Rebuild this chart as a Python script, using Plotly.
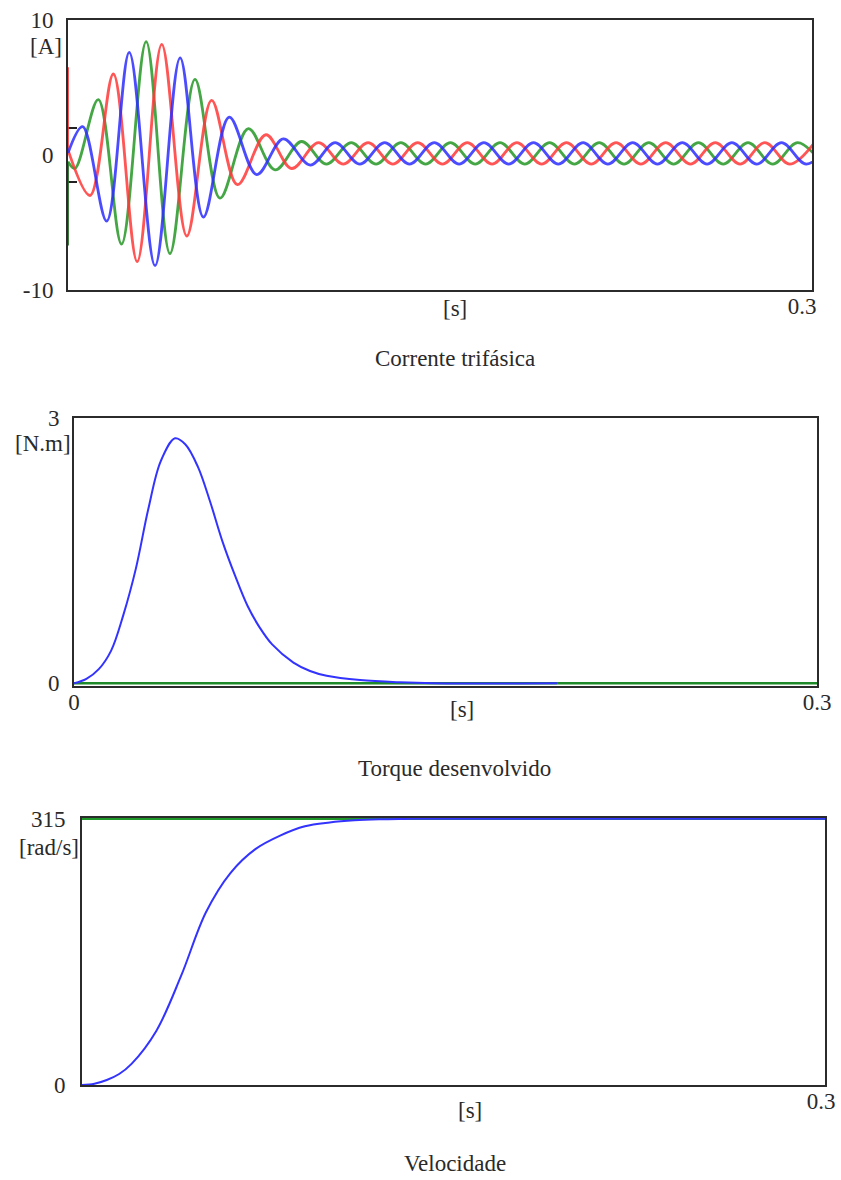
import plotly.graph_objects as go

W, H = 841, 1180
FONT = "Liberation Serif, Times New Roman, serif"
TXT = "#2a2a2a"

# ---------------- Panel 1: three-phase current [A] (extrema) -------------
ia_t = [0.0, 0.0089, 0.0183, 0.0279, 0.0378, 0.0479, 0.0579, 0.0683, 0.0798, 0.0902,
        0.1010, 0.1110, 0.1210, 0.1310, 0.1410, 0.1510, 0.1610, 0.1710, 0.1810, 0.1910,
        0.2010, 0.2110, 0.2210, 0.2310, 0.2410, 0.2510, 0.2610, 0.2710, 0.2810, 0.2910, 0.3010]
ia_v = [0.37, -3.0, 6.0, -7.9, 8.2, -6.0, 4.05, -2.2, 1.5, -1.0,
        0.92, -0.68, 0.92, -0.68, 0.92, -0.68, 0.92, -0.68, 0.92, -0.68,
        0.92, -0.68, 0.92, -0.68, 0.92, -0.68, 0.92, -0.68, 0.92, -0.68, 0.92]

ib_t = [0.0, 0.0059, 0.0156, 0.0247, 0.0351, 0.0452, 0.0546, 0.0650, 0.0761, 0.0868, 0.0977,
        0.1077, 0.1177, 0.1277, 0.1377, 0.1477, 0.1577, 0.1677, 0.1777, 0.1877, 0.1977,
        0.2077, 0.2177, 0.2277, 0.2377, 0.2477, 0.2577, 0.2677, 0.2777, 0.2877, 0.2977, 0.3077]
ib_v = [0.15, 2.1, -4.9, 7.6, -8.2, 7.2, -4.6, 2.8, -1.45, 1.2, -0.75,
        0.92, -0.68, 0.92, -0.68, 0.92, -0.68, 0.92, -0.68, 0.92, -0.68,
        0.92, -0.68, 0.92, -0.68, 0.92, -0.68, 0.92, -0.68, 0.92, -0.68, 0.92]

ic_t = [0.0, 0.0028, 0.0122, 0.0216, 0.0315, 0.0411, 0.0512, 0.0613, 0.0727, 0.0835, 0.0942,
        0.1042, 0.1142, 0.1242, 0.1342, 0.1442, 0.1542, 0.1642, 0.1742, 0.1842, 0.1942,
        0.2042, 0.2142, 0.2242, 0.2342, 0.2442, 0.2542, 0.2642, 0.2742, 0.2842, 0.2942, 0.3042]
ic_v = [-0.5, -1.0, 4.1, -6.6, 8.4, -7.3, 5.6, -3.2, 1.95, -1.1, 1.0,
        -0.68, 0.92, -0.68, 0.92, -0.68, 0.92, -0.68, 0.92, -0.68, 0.92,
        -0.68, 0.92, -0.68, 0.92, -0.68, 0.92, -0.68, 0.92, -0.68, 0.92, -0.68]

# initial sample jump at t = 0
ia_init_t = [0.0, 0.0]
ia_init_v = [6.5, 0.37]
ic_init_t = [0.0, 0.0]
ic_init_v = [-6.7, -0.5]

# short marks on the current axis
i_marks = [-2, 2]

# ---------------- Panel 2: developed torque [N.m] ----------------
tq_t = [0.0, 0.005, 0.010, 0.015, 0.020, 0.025, 0.030, 0.035, 0.0408, 0.045, 0.050,
        0.055, 0.060, 0.065, 0.070, 0.075, 0.080, 0.0886, 0.0953, 0.1020, 0.1155,
        0.1316, 0.1450, 0.1950]
tq_v = [0.0, 0.05, 0.16, 0.37, 0.78, 1.30, 1.97, 2.51, 2.77, 2.70, 2.45,
        2.05, 1.60, 1.22, 0.88, 0.63, 0.44, 0.235, 0.14, 0.086, 0.037,
        0.011, 0.0, 0.0]
tl_t = [0.0, 0.3]
tl_v = [0.0, 0.0]

# ---------------- Panel 3: speed [rad/s] ----------------
w_t = [0.0, 0.005, 0.010, 0.015, 0.020, 0.030, 0.040, 0.050, 0.060, 0.070, 0.080, 0.090,
       0.100, 0.110, 0.120, 0.130, 0.140, 0.300]
w_v = [0.0, 1.5, 5.9, 13.0, 25.0, 64.0, 129.0, 204.0, 251.0, 279.0, 295.0, 306.0,
       310.5, 313.0, 314.2, 314.7, 315.0, 315.0]
wref_t = [0.0, 0.3]
wref_v = [315.0, 315.0]

RED, GREEN, BLUE = "rgba(255,55,55,0.85)", "rgba(35,150,35,0.85)", "rgba(45,45,255,0.85)"

fig = go.Figure()
# panel 1
fig.add_trace(go.Scatter(x=ia_init_t, y=ia_init_v, mode="lines", line=dict(color=RED, width=2), xaxis="x", yaxis="y"))
fig.add_trace(go.Scatter(x=ic_init_t, y=ic_init_v, mode="lines", line=dict(color="rgba(40,110,40,0.9)", width=2), xaxis="x", yaxis="y"))
fig.add_trace(go.Scatter(x=ic_t, y=ic_v, mode="lines", line=dict(color=GREEN, width=2.8, shape="spline", smoothing=1.0), xaxis="x", yaxis="y"))
fig.add_trace(go.Scatter(x=ia_t, y=ia_v, mode="lines", line=dict(color=RED, width=2.8, shape="spline", smoothing=1.0), xaxis="x", yaxis="y"))
fig.add_trace(go.Scatter(x=ib_t, y=ib_v, mode="lines", line=dict(color=BLUE, width=2.8, shape="spline", smoothing=1.0), xaxis="x", yaxis="y"))
# panel 2
fig.add_trace(go.Scatter(x=tl_t, y=tl_v, mode="lines", line=dict(color="#1f8a2a", width=2.5), xaxis="x2", yaxis="y2"))
fig.add_trace(go.Scatter(x=tq_t, y=tq_v, mode="lines", line=dict(color="#3333ff", width=2, shape="spline", smoothing=1.0), xaxis="x2", yaxis="y2"))
# panel 3
fig.add_trace(go.Scatter(x=wref_t, y=wref_v, mode="lines", line=dict(color="#1f9a2a", width=2.5), xaxis="x3", yaxis="y3"))
fig.add_trace(go.Scatter(x=w_t, y=w_v, mode="lines", line=dict(color="#3333ff", width=2, shape="spline", smoothing=1.0), xaxis="x3", yaxis="y3"))


def dom_x(x0, x1):
    return [x0 / W, x1 / W]


def dom_y(ytop, ybot):
    return [1 - ybot / H, 1 - ytop / H]


tickfont = dict(family=FONT, size=23, color=TXT)
frame = dict(showline=True, mirror=True, linecolor="#2b2b2b", linewidth=2, showgrid=False,
             zeroline=False, ticks="", layer="below traces", tickfont=tickfont, automargin=False)

layout = dict(
    width=W, height=H, margin=dict(l=0, r=0, t=0, b=0, autoexpand=False),
    paper_bgcolor="white", plot_bgcolor="white", showlegend=False,
    xaxis=dict(domain=dom_x(68, 812), range=[0, 0.3], anchor="y", tickvals=[0.3], ticktext=["0.3"],
               ticklabelstandoff=-6, ticklabelshift=-10, **frame),
    yaxis=dict(domain=dom_y(20, 290), range=[-10, 10], anchor="x", tickvals=[-10, 0, 10],
               ticktext=["-10", "0", "10"], ticklabelstandoff=8,
               minor=dict(tickvals=i_marks, ticks="inside", ticklen=9, tickwidth=1.5,
                          tickcolor="#222", showgrid=False),
               **frame),
    xaxis2=dict(domain=dom_x(74, 817), range=[0, 0.3], anchor="y2", tickvals=[0, 0.3], ticktext=["0", "0.3"],
                ticklabelstandoff=-6, **frame),
    yaxis2=dict(domain=dom_y(418, 686), range=[-0.03, 3], anchor="x2", tickvals=[0, 3],
                ticktext=["0", "3"], ticklabelstandoff=8, **frame),
    xaxis3=dict(domain=dom_x(82, 825), range=[0, 0.3], anchor="y3", tickvals=[0.3], ticktext=["0.3"],
                ticklabelstandoff=-6, ticklabelshift=-4, **frame),
    yaxis3=dict(domain=dom_y(818, 1085), range=[0, 315.8], anchor="x3", tickvals=[0, 315],
                ticktext=["0", "315"], ticklabelstandoff=10, **frame),
)
fig.update_layout(**layout)

ann_font = dict(family=FONT, size=23, color=TXT)
cap_font = dict(family=FONT, size=23, color=TXT)


def ann(text, x, y, xanchor="center", font=ann_font):
    fig.add_annotation(text=text, x=x / W, y=1 - y / H, xref="paper", yref="paper",
                       xanchor=xanchor, yanchor="middle", showarrow=False, font=font)


ann("[A]", 64, 46, "right")
ann("[s]", 455, 308)
ann("Corrente trifásica", 455, 358, font=cap_font)

ann("[N.m]", 73, 443, "right")
ann("[s]", 462, 709)
ann("Torque desenvolvido", 455, 768, font=cap_font)

ann("[rad/s]", 81, 847, "right")
ann("[s]", 470, 1110)
ann("Velocidade", 455, 1163, font=cap_font)

fig.write_html("out.html", config={"displayModeBar": False},
               post_script="document.body.style.margin='0';")
